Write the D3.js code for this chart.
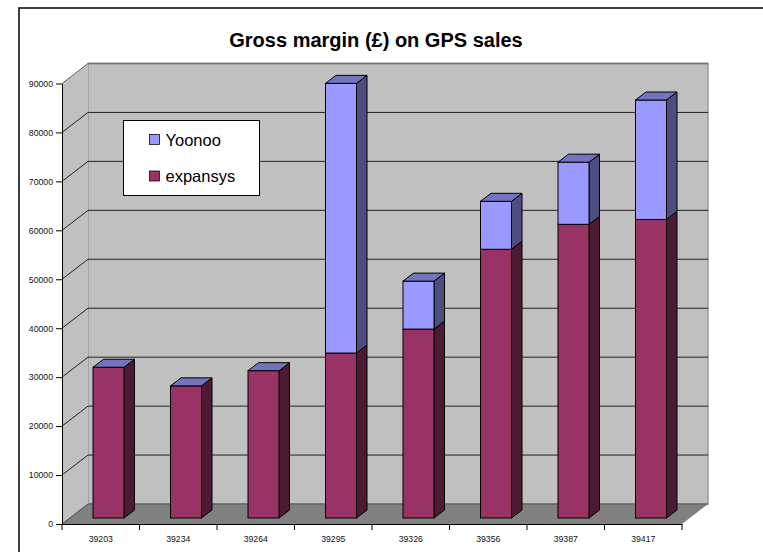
<!DOCTYPE html>
<html>
<head>
<meta charset="utf-8">
<script src="https://d3js.org/d3.v7.min.js"></script>
<style>
  html, body { margin: 0; padding: 0; background: #fff; }
  svg { display: block; }
  text { font-family: "Liberation Sans", Arial, sans-serif; }
</style>
</head>
<body>
<svg></svg>
<script>
// values
const categories = ["39203", "39234", "39264", "39295", "39326", "39356", "39387", "39417"];
const expansys = [30800, 27000, 30100, 33700, 38600, 54900, 60000, 61000];
const yoonoo = [0, 0, 0, 55100, 9800, 9800, 12700, 24400];
const yTicks = [0, 10000, 20000, 30000, 40000, 50000, 60000, 70000, 80000, 90000];
const title = "Gross margin (£) on GPS sales";

const w = 763, h = 552;
const svg = d3.select("svg").attr("width", w).attr("height", h);

// chart frame, only left and top fall inside the picture
svg.append("path")
  .attr("d", "M19,552V8H763")
  .attr("fill", "none").attr("stroke", "#000").attr("stroke-width", 1.5);

svg.append("text")
  .attr("x", 376).attr("y", 46.5)
  .attr("text-anchor", "middle")
  .style("font-size", "20px").style("font-weight", "bold")
  .text(title);

const x0 = 62, x1 = 682;
const depthX = 26, depthY = 20;   // depth of the 3d box
const xScale = d3.scaleBand().domain(categories).range([x0, x1]);
const yScale = d3.scaleLinear().domain([0, 90000]).range([524, 83.5]);

const g = svg.append("g");

// back wall and side wall
g.append("polygon")
  .attr("points", [[x0 + depthX, yScale(90000) - depthY], [x1 + depthX, yScale(90000) - depthY], [x1 + depthX, yScale(0) - depthY], [x0 + depthX, yScale(0) - depthY]].join(" "))
  .attr("fill", "#c0c0c0").attr("stroke", "#999").attr("stroke-width", 1.5);
g.append("polygon")
  .attr("points", [[x0, yScale(90000)], [x0 + depthX, yScale(90000) - depthY], [x0 + depthX, yScale(0) - depthY], [x0, yScale(0)]].join(" "))
  .attr("fill", "#c0c0c0");
g.append("line")
  .attr("x1", x0 + depthX).attr("x2", x1 + depthX)
  .attr("y1", yScale(90000) - depthY).attr("y2", yScale(90000) - depthY)
  .attr("stroke", "#707070").attr("stroke-width", 1.5);
// floor
g.append("polygon")
  .attr("points", [[x0, yScale(0)], [x1, yScale(0)], [x1 + depthX, yScale(0) - depthY], [x0 + depthX, yScale(0) - depthY]].join(" "))
  .attr("fill", "#808080");
g.append("line")
  .attr("x1", x0 + depthX).attr("x2", x1 + depthX)
  .attr("y1", yScale(0) - depthY).attr("y2", yScale(0) - depthY)
  .attr("stroke", "#666").attr("stroke-width", 1.5);

// gridlines, back wall + side wall
yTicks.slice(1, -1).forEach(function(t){
  g.append("path")
    .attr("d", `M${x0},${yScale(t)}L${x0 + depthX},${yScale(t) - depthY}H${x1 + depthX}`)
    .attr("fill", "none").attr("stroke", "#222").attr("stroke-width", 1);
});
g.append("path")
  .attr("d", `M${x0},${yScale(90000)}L${x0 + depthX},${yScale(90000) - depthY}`)
  .attr("fill", "none").attr("stroke", "#666").attr("stroke-width", 1);
g.append("path")
  .attr("d", `M${x0},${yScale(0)}L${x0 + depthX},${yScale(0) - depthY}`)
  .attr("fill", "none").attr("stroke", "#444").attr("stroke-width", 1);

// bars
const barW = 31, barOffX = 31, barOffY = 6, barDX = 10.5, barDY = 8;
const colours = {
  expansys: { front: "#993366", side: "#4d1a33" },
  Yoonoo: { front: "#9999ff", side: "#4d4d80", top: "#7373bf" }
};

function drawBox(cat, from, to, c){
  const left = xScale(cat) + barOffX, right = left + barW;
  const yb = yScale(from) - barOffY, yt = yScale(to) - barOffY;
  g.append("polygon")
    .attr("points", [[right, yt], [right + barDX, yt - barDY], [right + barDX, yb - barDY], [right, yb]].join(" "))
    .attr("fill", c.side).attr("stroke", "#000").attr("stroke-width", 1);
  g.append("rect")
    .attr("x", left).attr("y", yt)
    .attr("width", barW).attr("height", yb - yt)
    .attr("fill", c.front).attr("stroke", "#000").attr("stroke-width", 1);
}

categories.forEach(function(cat, i){
  const total = expansys[i] + yoonoo[i];
  drawBox(cat, 0, expansys[i], colours.expansys);
  if (yoonoo[i] > 0) drawBox(cat, expansys[i], total, colours.Yoonoo);
  // the top is always Yoonoo's, even with a zero value
  const left = xScale(cat) + barOffX, right = left + barW, yt = yScale(total) - barOffY;
  g.append("polygon")
    .attr("points", [[left, yt], [left + barDX, yt - barDY], [right + barDX, yt - barDY], [right, yt]].join(" "))
    .attr("fill", colours.Yoonoo.top).attr("stroke", "#000").attr("stroke-width", 1);
});

// axes
const yAxis = d3.axisLeft(yScale).tickValues(yTicks).tickFormat(d3.format("d")).tickSize(6).tickSizeOuter(0).tickPadding(3);
const yG = svg.append("g").attr("transform", `translate(${x0},0)`).call(yAxis);
const xAxis = d3.axisBottom(xScale).tickSize(0).tickPadding(12);
const xG = svg.append("g").attr("transform", `translate(0,${yScale(0)})`).call(xAxis);
xG.selectAll("line.edge")
  .data(d3.range(categories.length + 1))
  .enter().append("line")
  .attr("class", "edge")
  .attr("x1", function(d){ return x0 + d * xScale.step(); })
  .attr("x2", function(d){ return x0 + d * xScale.step(); })
  .attr("y1", 0).attr("y2", 6)
  .attr("stroke", "#000");
[yG, xG].forEach(function(a){
  a.selectAll("path").attr("stroke", "#000");
  a.selectAll("text").attr("fill", "#111").style("font-size", "8.7px").style("font-family", '"Liberation Sans", Arial, sans-serif');
});

// legend
const legend = svg.append("g").attr("transform", "translate(123.5,120.5)");
legend.append("rect")
  .attr("width", 136).attr("height", 75)
  .attr("fill", "#fff").attr("stroke", "#000").attr("stroke-width", 1);
[["Yoonoo", colours.Yoonoo.front], ["expansys", colours.expansys.front]].forEach(function(d, i){
  legend.append("rect")
    .attr("x", 26).attr("y", 14 + i * 36.5)
    .attr("width", 10).attr("height", 10)
    .attr("fill", d[1]).attr("stroke", "#000").attr("stroke-width", 0.75);
  legend.append("text")
    .attr("x", 42).attr("y", 25.5 + i * 36)
    .style("font-size", "16.5px")
    .text(d[0]);
});
</script>
</body>
</html>
